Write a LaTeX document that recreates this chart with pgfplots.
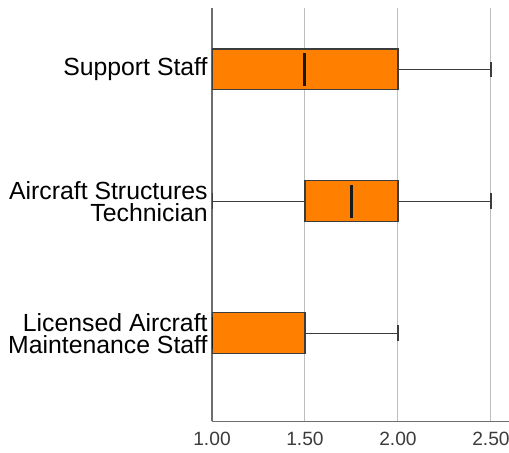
\documentclass[border=0pt]{standalone}
\usepackage{fontspec}
\setmainfont{Liberation Sans}
\usepackage{pgfplots}
\pgfplotsset{compat=1.18}
\usepgfplotslibrary{statistics}

\definecolor{boxorange}{RGB}{255,128,0}
\definecolor{boxedge}{RGB}{60,60,60}
\definecolor{gridgray}{RGB}{190,190,190}
\definecolor{axisgray}{RGB}{110,110,110}
\definecolor{ticktext}{RGB}{60,60,60}

\begin{document}
\begin{tikzpicture}
\begin{axis}[
scale only axis,
width=148.5pt, height=206.75pt,
xmin=1, xmax=2.597,
ymin=0.330, ymax=3.466,
axis x line*=bottom,
axis y line*=left,
axis line style={-, draw=axisgray, line width=0.6pt},
xtick={1,1.5,2,2.5},
ytick={1,2,3},
yticklabels={Licensed Aircraft\\Maintenance Staff, Aircraft Structures\\Technician, Support Staff},
major tick length=0pt,
xmajorgrids,
grid style={draw=gridgray, line width=0.5pt},
/pgf/number format/assume math mode=true,
xticklabel={\pgfmathprintnumber[fixed, fixed zerofill, precision=2]{\tick}},
xticklabel style={font=\fontsize{9.6}{10}\selectfont, text=ticktext, inner sep=0pt, anchor=north, yshift=-5pt},
yticklabel style={font=\fontsize{12.4}{11}\selectfont, align=right, inner sep=0pt, anchor=east, xshift=-2pt},
boxplot/draw direction=x,
boxplot/box extend=0.31,
boxplot/whisker extend=0.12,
boxplot/draw/median/.code={%
  \draw[line width=1.5pt, draw=black!90]
    (boxplot box cs:\pgfplotsboxplotvalue{median},0.1) --
    (boxplot box cs:\pgfplotsboxplotvalue{median},0.9);
},
boxstyle/.style={draw=boxedge, fill=boxorange, line width=0.6pt, solid},
]
% Licensed Aircraft Maintenance Staff
\addplot[boxstyle, boxplot prepared={lower whisker=1, lower quartile=1, median=1, upper quartile=1.5, upper whisker=2, draw position=1}] coordinates {};
% Aircraft Structures Technician
\addplot[boxstyle, boxplot prepared={lower whisker=1, lower quartile=1.5, median=1.75, upper quartile=2, upper whisker=2.5, draw position=2}] coordinates {};
% Support Staff
\addplot[boxstyle, boxplot prepared={lower whisker=1, lower quartile=1, median=1.5, upper quartile=2, upper whisker=2.5, draw position=3}] coordinates {};
\end{axis}
\pgfresetboundingbox
\path[use as bounding box] ([xshift=-106pt,yshift=-15.75pt]current axis.south west) rectangle ([yshift=4pt]current axis.north east);
\end{tikzpicture}
\end{document}
